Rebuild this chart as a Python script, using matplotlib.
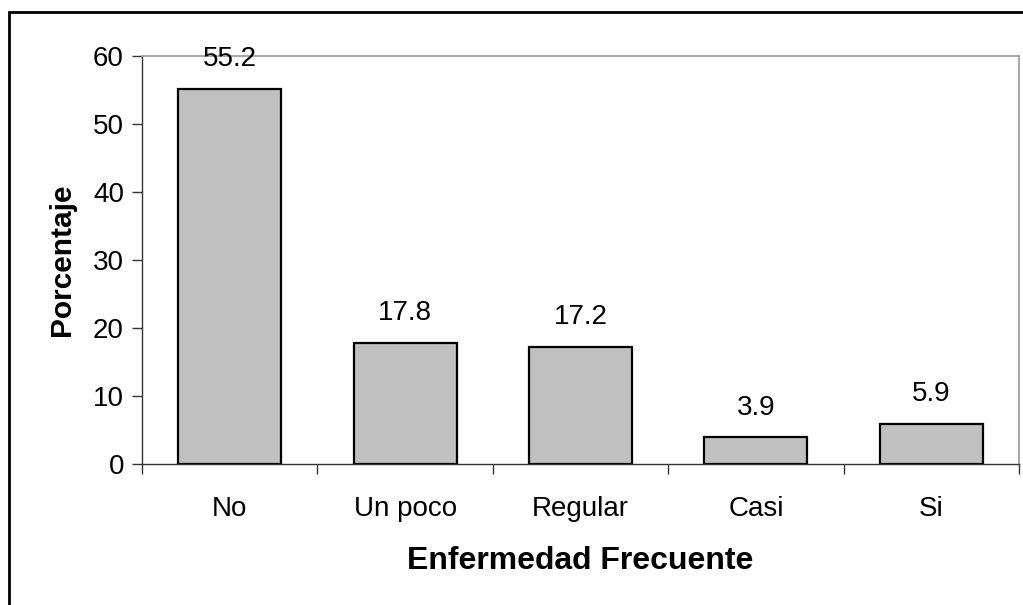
import numpy as np
import matplotlib.pyplot as plt
from matplotlib.patches import Rectangle

categorias = ['No', 'Un poco', 'Regular', 'Casi', 'Si']
porcentajes = [55.2, 17.8, 17.2, 3.9, 5.9]
yticks = [0, 10, 20, 30, 40, 50, 60]

plt.rcParams['font.family'] = ['Liberation Sans', 'DejaVu Sans']

fig = plt.figure(figsize=(10.23, 6.05), dpi=100)
ax = fig.add_axes([142 / 1023, 1 - 464 / 605, (1019 - 142) / 1023, (464 - 56) / 605])

x = np.arange(len(categorias))
bars = ax.bar(x, porcentajes, width=1 / 1.7, color='#C0C0C0',
              edgecolor='black', linewidth=1.6, zorder=2)

# value labels above each bar
for xi, v in zip(x, porcentajes):
    ax.annotate(f'{v:.1f}', (xi, v), xytext=(0, 12), textcoords='offset points',
                ha='center', va='bottom', fontsize=20, zorder=4)

ax.set_xlim(-0.5, len(categorias) - 0.5)
ax.set_ylim(0, 60)
ax.set_yticks(yticks)
ax.set_xticks(x)
ax.set_xticklabels(categorias)
ax.set_xticks(np.arange(len(categorias) + 1) - 0.5, minor=True)

ax.tick_params(axis='y', direction='out', length=7, width=1, labelsize=20,
               pad=6, color='#333333')
ax.tick_params(axis='x', which='major', length=0, labelsize=20, pad=23)
ax.tick_params(axis='x', which='minor', direction='out', length=7, width=1,
               color='#333333')

for side in ('top', 'right'):
    ax.spines[side].set_color('#999999')
    ax.spines[side].set_linewidth(1.2)
for side in ('left', 'bottom'):
    ax.spines[side].set_color('#333333')
    ax.spines[side].set_linewidth(1)

ax.set_xlabel('Enfermedad Frecuente', fontsize=23, fontweight='bold', labelpad=17)
ax.set_ylabel('Porcentaje', fontsize=21.5, fontweight='bold', labelpad=12)

# outer chart frame
fig.patches.append(Rectangle((9 / 1023, -0.1), 1.2, 1.1 - 12 / 605,
                             transform=fig.transFigure, fill=False,
                             edgecolor='black', linewidth=2))

fig.savefig('out.png', dpi=100)
